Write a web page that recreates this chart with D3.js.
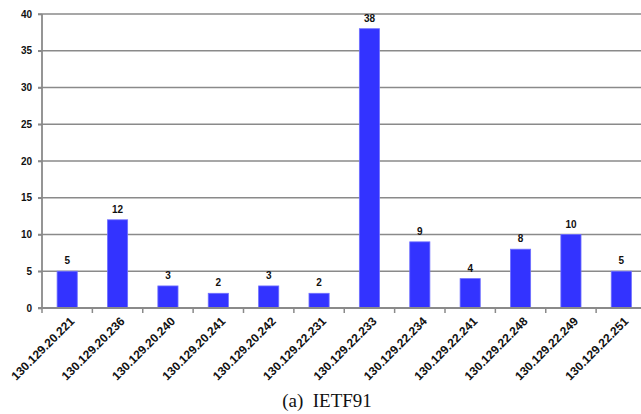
<!DOCTYPE html>
<html><head><meta charset="utf-8">
<script src="https://cdn.jsdelivr.net/npm/d3@7"></script>
<style>body{margin:0;background:#fff}svg{display:block}</style>
</head><body>
<script>
const categories = ["130.129.20.221","130.129.20.236","130.129.20.240","130.129.20.241","130.129.20.242","130.129.22.231","130.129.22.233","130.129.22.234","130.129.22.241","130.129.22.248","130.129.22.249","130.129.22.251"];
const values = [5,12,3,2,3,2,38,9,4,8,10,5];
const yTicks = [0,5,10,15,20,25,30,35,40];
const caption = "(a)\u00a0\u00a0IETF91";

const W = 641, H = 414;
const svg = d3.select("body").append("svg").attr("width", W).attr("height", H);
const x = d3.scaleBand().domain(categories).range([42, 646.5]).paddingInner(0.6).paddingOuter(0.3);
const y = d3.scaleLinear().domain([0, 40]).range([308, 14]);
const gridColor = "#8a8a8a";
const sans = "'Liberation Sans', Arial, sans-serif";

// gridlines
svg.append("g").selectAll("line").data(yTicks.filter(d => d > 0)).join("line")
  .attr("x1", 38).attr("x2", 660).attr("y1", d => y(d)).attr("y2", d => y(d))
  .attr("stroke", gridColor).attr("stroke-width", 1.6);

// bars
svg.append("g").selectAll("rect").data(values).join("rect")
  .attr("x", (d, i) => x(categories[i]))
  .attr("width", x.bandwidth())
  .attr("y", d => y(d))
  .attr("height", d => y(0) - y(d))
  .attr("fill", "#3333ff")
  .attr("stroke", "#6f6fff").attr("stroke-width", 0.8);

// y axis
const yAxis = svg.append("g").attr("transform", "translate(42,0)")
  .call(d3.axisLeft(y).tickValues(yTicks).tickSize(4).tickPadding(6).tickFormat(d3.format("d")));
yAxis.select(".domain").attr("stroke", gridColor).attr("stroke-width", 1.8).attr("d", "M0,14V308");
yAxis.selectAll(".tick line").attr("stroke", gridColor).attr("stroke-width", 1.6);
yAxis.selectAll(".tick text").attr("font-family", sans)
  .attr("font-size", 10).attr("font-weight", "bold").attr("fill", "#111");

// x axis
const xb = d3.scaleLinear().domain([0, categories.length]).range([42, 646.5]);
const xAxis = svg.append("g").attr("transform", "translate(0,308)");
xAxis.append("line").attr("x1", 38).attr("x2", 660).attr("y1", 0).attr("y2", 0)
  .attr("stroke", gridColor).attr("stroke-width", 1.8);
xAxis.selectAll("line.t").data(d3.range(categories.length + 1)).join("line").attr("class", "t")
  .attr("x1", d => xb(d)).attr("x2", d => xb(d)).attr("y1", 0).attr("y2", 5)
  .attr("stroke", gridColor).attr("stroke-width", 1.5);
xAxis.selectAll("text").data(categories).join("text")
  .attr("transform", d => `translate(${x(d) + x.bandwidth() / 2 + 5},${11}) rotate(-45)`)
  .attr("text-anchor", "end").attr("dy", "0.35em")
  .attr("font-family", sans)
  .attr("font-size", 12).attr("font-weight", "bold").attr("fill", "#111")
  .text(d => d);

// value labels
svg.append("g").selectAll("text").data(values).join("text")
  .attr("x", (d, i) => x(categories[i]) + x.bandwidth() / 2)
  .attr("y", d => y(d) - 7)
  .attr("text-anchor", "middle")
  .attr("font-family", sans)
  .attr("font-size", 10).attr("font-weight", "bold").attr("fill", "#111")
  .text(d => d);

// caption
svg.append("text").attr("x", 327).attr("y", 406.5).attr("text-anchor", "middle")
  .attr("font-family", "'Liberation Serif', 'Times New Roman', serif").attr("font-size", 19)
  .attr("fill", "#111").text(caption);
</script>
</body></html>
